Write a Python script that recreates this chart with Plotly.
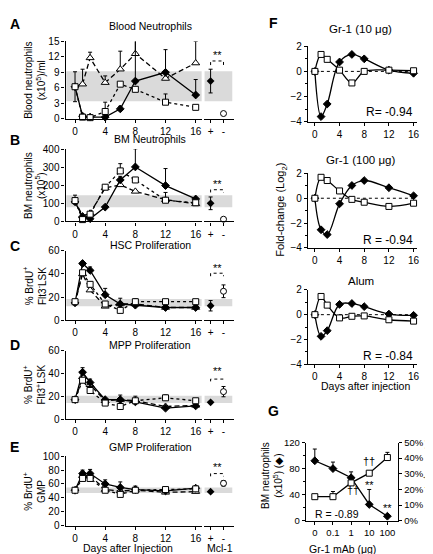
import plotly.graph_objects as go

W, H = 433, 554
def fx(p): return p / W
def fy(p): return 1 - p / H

FONT = "Liberation Sans, Arial, sans-serif"

days = [0, 1, 2, 4, 6, 8, 12, 16]

# Panel A - Blood neutrophils (x10^5/ml)
A_diamond = [6.2, 0.5, 0.3, 0.3, 1.9, 7.3, 9.0, 4.6]
A_diamond_err = [2.9, 0, 0, 0, 0.5, 8.0, 4.4, 3.0]
A_square = [6.2, 0.3, 0.2, 1.4, 6.7, 5.7, 3.2, 2.2]
A_square_err = [0, 0, 0, 1.8, 0, 0, 1.6, 0]
A_triangle = [6.2, 6.7, 11.8, 7.0, 9.6, 12.6, 7.8, 10.8]
A_triangle_err = [0, 2.9, 1.1, 1.3, 3.5, 2.7, 0, 4.2]
A_mcl = [7.3, 1.0]
A_mcl_err = [2.3, 0]

# Panel B - BM neutrophils (x10^5)
B_diamond = [108, 25, 15, 79, 229, 301, 198, 124]
B_diamond_err = [37, 0, 0, 0, 20, 100, 94, 0]
B_square = [115, 10, 40, 189, 279, 229, 117, 103]
B_square_err = [0, 0, 0, 0, 40, 0, 43, 0]
B_triangle = [115, 30, 45, 185, 202, 166, 120, 97]
B_triangle_err = [0, 0, 0, 0, 0, 0, 0, 0]
B_mcl = [100, 12]
B_mcl_err = [35, 0]

# Panel C - HSC proliferation (% BrdU+)
C_diamond = [15, 49, 43, 22, 14, 13, 11, 11]
C_diamond_err = [0, 1.5, 3, 5.5, 5, 0, 0, 0]
C_square = [16, 41, 31, 14, 8.5, 16, 16, 16]
C_square_err = [2, 0, 2, 0, 0, 2.5, 0, 0]
C_triangle = [15, 40, 26, 12, 14, 14, 11, 11]
C_triangle_err = [0, 0, 0, 0, 0, 0, 0, 0]
C_mcl = [12.5, 25]
C_mcl_err = [4.5, 5.5]

# Panel D - MPP proliferation (% BrdU+)
D_diamond = [17, 41, 32, 17, 17, 15, 9.5, 11.5]
D_diamond_err = [0, 4, 3, 0, 0, 0, 0, 0]
D_square = [17, 34, 25, 14, 11, 16, 18.6, 16]
D_square_err = [0, 0, 0, 0, 0, 4, 2.5, 0]
D_triangle = [16, 37, 30, 16, 17, 16, 11, 12]
D_triangle_err = [0, 0, 0, 0, 4, 0, 0, 0]
D_mcl = [14.6, 24]
D_mcl_err = [0, 4.5]

# Panel E - GMP proliferation (% BrdU+)
E_diamond = [51, 75, 75, 60, 55, 52, 50, 54]
E_diamond_err = [0, 5, 6, 6, 8, 5, 0, 2]
E_square = [51, 68, 68, 51, 45, 51, 52, 53]
E_square_err = [0, 0, 0, 0, 0, 0, 0, 0]
E_triangle = [51, 72, 72, 52, 50, 51, 48, 49]
E_triangle_err = [0, 0, 0, 0, 0, 0, 0, 0]
E_mcl = [49, 61]
E_mcl_err = [0, 4]

mcl_labels = ["+", "-"]

# Panel F - fold change (log2)
F1_diamond = [0, -3.6, -2.6, 0.75, 1.35, 1.0, 0.1, -0.15]
F1_square = [0, 1.35, 0.96, 0.1, -0.92, 0.0, 0.1, 0.05]
F2_diamond = [0, -2.54, -2.93, -0.45, 1.03, 1.43, 0.85, 0.2]
F2_square = [0, 1.69, 1.43, 0.59, -0.09, -0.32, -0.66, -0.4]
F3_diamond = [0, -1.75, -1.29, 0.83, 0.9, 0.65, 0.05, -0.05]
F3_square = [0, 1.47, 0.77, -0.26, -0.13, -0.1, -0.41, -0.52]

# Panel G - dose response
doses = ["0", "0.1", "1", "10", "100"]
G_neut = [92, 80, 66, 25, 7]
G_neut_err = [18, 10, 9, 23, 0]
G_hsc = [15.4, 15.4, 24.2, 30.4, 40.4]
G_hsc_err = [0, 3.3, 0, 0, 3.3]
G_pct_ticks = [0, 10, 20, 30, 40, 50]

fig = go.Figure()
layout = {}
annotations = []
shapes = []

def xn(n): return "x" if n == 1 else "x%d" % n
def yn(n): return "y" if n == 1 else "y%d" % n

def ann(text, x, y, size=10, xanchor="center", yanchor="middle", angle=0, bold=False, xref="paper", yref="paper"):
    annotations.append(dict(text=("<b>%s</b>" % text) if bold else text, x=x, y=y, xref=xref, yref=yref,
                            showarrow=False, xanchor=xanchor, yanchor=yanchor, textangle=angle,
                            font=dict(family=FONT, size=size, color="black")))

def errd(err, errminus):
    if err is None:
        return None
    if errminus is None:
        errminus = [0] * len(err)
    return dict(type="data", array=err, arrayminus=errminus, symmetric=False, color="black", thickness=1,
                width=2, visible=True)

def series(xa, ya, x, y, err, symbol, dash, size, fill, shape="linear", errminus=None, sizes=None):
    if sizes is None:
        sizes = [size] * len(x)
    fig.add_trace(go.Scatter(
        x=x, y=y, xaxis=xa, yaxis=ya, mode="lines+markers", cliponaxis=False, showlegend=False,
        line=dict(color="black", width=1.3, dash=dash, shape=shape),
        marker=dict(symbol=symbol, size=sizes, color=fill, opacity=1, line=dict(color="black", width=1)),
        error_y=errd(err, errminus)))

def axis_common(fs=10):
    return dict(showline=True, linecolor="black", linewidth=1.2, ticks="outside", ticklen=3, tickwidth=1,
                tickcolor="black", showgrid=False, zeroline=False,
                tickfont=dict(family=FONT, size=fs, color="black"))

MX0, MX1 = 58, 195
MRANGE = [-1.25, 16.79]
CX0, CX1 = 197, 228
CRANGE = [-0.54, 1.846]

left_panels = [
    dict(title="Blood Neutrophils", letter="A", top=28, bot=107, rng=[0, 15], ticks=[0, 3, 6, 9, 12, 15],
         band=[3.4, 9.2], ylab="Blood neutrophils<br>(x10<sup>5</sup>)/ml", d=A_diamond, de=A_diamond_err,
         s=A_square, se=A_square_err, t=A_triangle, te=A_triangle_err, m=A_mcl, me=A_mcl_err,
         star=12.3, br=[10.4, 11.2], ty=12, ly=10),
    dict(title="BM Neutrophils", letter="B", top=138, bot=212, rng=[0, 400], ticks=[0, 100, 200, 300, 400],
         band=[78, 145], ylab="BM neutrophils<br>(x10<sup>5</sup>)", d=B_diamond, de=B_diamond_err,
         s=B_square, se=B_square_err, t=B_triangle, te=B_triangle_err, m=B_mcl, me=B_mcl_err,
         star=205, br=[160, 175], ty=128, ly=129),
    dict(title="HSC Proliferation", letter="C", top=242, bot=313, rng=[0, 60], ticks=[0, 20, 40, 60],
         band=[12, 18.3], ylab="% BrdU<sup>+</sup><br>Flt3<sup>-</sup>LSK", d=C_diamond, de=C_diamond_err,
         s=C_square, se=C_square_err, t=C_triangle, te=C_triangle_err, m=C_mcl, me=C_mcl_err,
         star=45.5, br=[38, 40.6], ty=236, ly=237),
    dict(title="MPP Proliferation", letter="D", top=344, bot=414, rng=[0, 60], ticks=[0, 20, 40, 60],
         band=[14, 20.5], ylab="% BrdU<sup>+</sup><br>Flt3<sup>+</sup>LSK", d=D_diamond, de=D_diamond_err,
         s=D_square, se=D_square_err, t=D_triangle, te=D_triangle_err, m=D_mcl, me=D_mcl_err,
         star=42.5, br=[33, 35], ty=338, ly=338),
    dict(title="GMP Proliferation", letter="E", top=452, bot=523, rng=[0, 100], ticks=[0, 20, 40, 60, 80, 100],
         band=[47, 55], ylab="% BrdU<sup>+</sup><br>GMP", d=E_diamond, de=E_diamond_err,
         s=E_square, se=E_square_err, t=E_triangle, te=E_triangle_err, m=E_mcl, me=E_mcl_err,
         star=84.5, br=[71, 75], ty=443, ly=443),
]

for i, p in enumerate(left_panels):
    n1, n2 = 2 * i + 1, 2 * i + 2
    xa, ya = xn(n1), yn(n1)
    xb, yb = xn(n2), yn(n2)
    k1 = "" if n1 == 1 else str(n1)
    ydom = [fy(p["bot"]), fy(p["top"])]
    xax = axis_common(); xax.update(domain=[fx(MX0), fx(MX1)], range=MRANGE, anchor=ya,
                                    tickvals=[0, 4, 8, 12, 16])
    yax = axis_common(); yax.update(domain=ydom, range=p["rng"], anchor=xa, tickvals=p["ticks"])
    xbx = axis_common(); xbx.update(domain=[fx(CX0), fx(CX1)], range=CRANGE, anchor=yb,
                                    tickvals=[0, 1], ticktext=mcl_labels)
    ybx = dict(domain=ydom, range=p["rng"], anchor=xb, visible=False, showgrid=False, zeroline=False)
    layout["xaxis" + k1] = xax
    layout["yaxis" + k1] = yax
    layout["xaxis%d" % n2] = xbx
    layout["yaxis%d" % n2] = ybx
    shapes.append(dict(type="rect", xref=xa + " domain", yref=ya, x0=0.005, x1=1, y0=p["band"][0], y1=p["band"][1],
                       fillcolor="#dadada", line=dict(width=0), layer="below"))
    shapes.append(dict(type="rect", xref=xb + " domain", yref=yb, x0=0.03, x1=0.93, y0=p["band"][0], y1=p["band"][1],
                       fillcolor="#dadada", line=dict(width=0), layer="below"))
    tsizes = [0] + [7] * (len(days) - 1)
    series(xa, ya, days, p["t"], p["te"], "triangle-up", "5px,3px", 7, "white", sizes=tsizes)
    dm = [p["de"][0]] + [0] * (len(days) - 1) if i == 0 else None
    series(xa, ya, days, p["d"], p["de"], "diamond", "solid", 6, "black", errminus=dm)
    series(xa, ya, days, p["s"], p["se"], "square", "dot", 6, "white")
    fig.add_trace(go.Scatter(x=[0], y=[p["m"][0]], xaxis=xb, yaxis=yb, mode="markers", cliponaxis=False,
                             showlegend=False, marker=dict(symbol="diamond", size=6, color="black"),
                             error_y=dict(type="data", array=[p["me"][0]], color="black", thickness=1, width=2)))
    fig.add_trace(go.Scatter(x=[1], y=[p["m"][1]], xaxis=xb, yaxis=yb, mode="markers", cliponaxis=False,
                             showlegend=False, marker=dict(symbol="circle", size=6, color="white", opacity=1,
                                                           line=dict(color="black", width=1)),
                             error_y=dict(type="data", array=[p["me"][1]], color="black", thickness=1, width=2)))
    fig.add_trace(go.Scatter(x=[0, 0, 1, 1], y=[p["br"][0], p["br"][1], p["br"][1], p["br"][0]], xaxis=xb, yaxis=yb,
                             mode="lines", cliponaxis=False, showlegend=False,
                             line=dict(color="black", width=1, dash="dot")))
    ann("**", 0.5, p["star"], size=11, xref=xb, yref=yb)
    ann(p["title"], fx(143), fy(p["ty"]), size=10.5)
    ann(p["letter"], fx(7), fy(p["ly"]), size=14, bold=True)
    ann(p["ylab"], fx(27), (ydom[0] + ydom[1]) / 2, size=10, angle=-90)

ann("Days after Injection", fx(121), fy(546), size=10.5)
ann("Mcl-1", fx(213), fy(546), size=10.5)

# Panel F
FX0, FX1 = 302, 411.5
FRANGE = [-1.13, 16.5]
f_panels = [
    dict(top=33, bot=110, title="Gr-1 (10 μg)", ty=15, d=F1_diamond, s=F1_square, r="R= -0.94", ry=100),
    dict(top=163, bot=239, title="Gr-1 (100 μg)", ty=149, d=F2_diamond, s=F2_square, r="R = -0.94", ry=231),
    dict(top=282, bot=358, title="Alum", ty=273, d=F3_diamond, s=F3_square, r="R = -0.84", ry=350),
]
for j, p in enumerate(f_panels):
    n = 11 + j
    xa, ya = xn(n), yn(n)
    xax = axis_common(); xax.update(domain=[fx(FX0), fx(FX1)], range=FRANGE, anchor=ya, tickvals=[0, 4, 8, 12, 16])
    yax = axis_common(); yax.update(domain=[fy(p["bot"]), fy(p["top"])], range=[-4, 2], anchor=xa,
                                    tickvals=[-4, -2, 0, 2],
                                    minor=dict(ticks="outside", ticklen=2, tickvals=[-3, -1, 1], tickcolor="black"))
    layout["xaxis%d" % n] = xax
    layout["yaxis%d" % n] = yax
    fig.add_trace(go.Scatter(x=[0, 16], y=[0, 0], xaxis=xa, yaxis=ya, mode="lines", showlegend=False,
                             line=dict(color="black", width=1, dash="dot")))
    series(xa, ya, days, p["d"], None, "diamond", "solid", 6, "black", shape="spline")
    series(xa, ya, days, p["s"], None, "square", "solid", 6, "white", shape="spline")
    ann(p["title"], fx(355), fy(p["ty"]), size=11.5)
    ann(p["r"], fx(410), fy(p["ry"]), size=12, xanchor="right")

ann("F", fx(267), fy(9), size=14, bold=True)
ann("Fold-change (Log<sub>2</sub>)", fx(275), fy(200), size=11, angle=-90)
ann("Days after injection", fx(360), fy(380), size=10.5)

# Panel G
xa, ya, yr = "x14", "y14", "y15"
GX0, GX1 = 300, 393
gx = list(range(len(doses)))
xax = axis_common(9.5); xax.update(domain=[fx(GX0), fx(GX1)], range=[-0.49, 4.6], anchor=ya, tickvals=gx,
                                   ticktext=doses)
yax = axis_common(9.5); yax.update(domain=[fy(518), fy(438)], range=[0, 120], anchor=xa, tickvals=[0, 40, 80, 120],
                                   minor=dict(ticks="outside", ticklen=2, tickvals=[20, 60, 100], tickcolor="black"))
yrx = axis_common(9.5); yrx.update(domain=[fy(518), fy(438)], range=[0, 50], anchor=xa, overlaying=ya, side="right",
                                   tickvals=G_pct_ticks, ticktext=["%d%%" % v for v in G_pct_ticks])
layout["xaxis14"] = xax
layout["yaxis14"] = yax
layout["yaxis15"] = yrx
series(xa, ya, gx, G_neut, G_neut_err, "diamond", "solid", 6, "black")
series(xa, yr, gx, G_hsc, G_hsc_err, "square", "solid", 6, "white")
ann("G", fx(267), fy(406), size=14, bold=True)
ann("††", 4, 121.5, size=11, xref=xa, yref=ya)
ann("††", 3, 91.5, size=11, xref=xa, yref=ya)
ann("**", 3, 55, size=11, xref=xa, yref=ya)
ann("††", 2.1, 46.5, size=11, xref=xa, yref=ya)
ann("**", 4, 19, size=11, xref=xa, yref=ya)
ann("R = -0.89", fx(307), fy(511), size=10.5, xanchor="left")
ann("Gr-1 mAb (μg)", fx(337), fy(547), size=10.5)
ann("BM neutrophils<br>(x10<sup>5</sup>) (◆)", fx(266), fy(472), size=10, angle=-90)
ann("% BrdU<sup>+</sup> HSC (□)", fx(422.5), fy(472), size=9.5, angle=-90)

layout.update(width=W, height=H, margin=dict(l=0, r=0, t=0, b=0), paper_bgcolor="white", plot_bgcolor="rgba(0,0,0,0)",
              showlegend=False, annotations=annotations, shapes=shapes, font=dict(family=FONT, color="black"))
fig.update_layout(**layout)
fig.write_html("out.html")
